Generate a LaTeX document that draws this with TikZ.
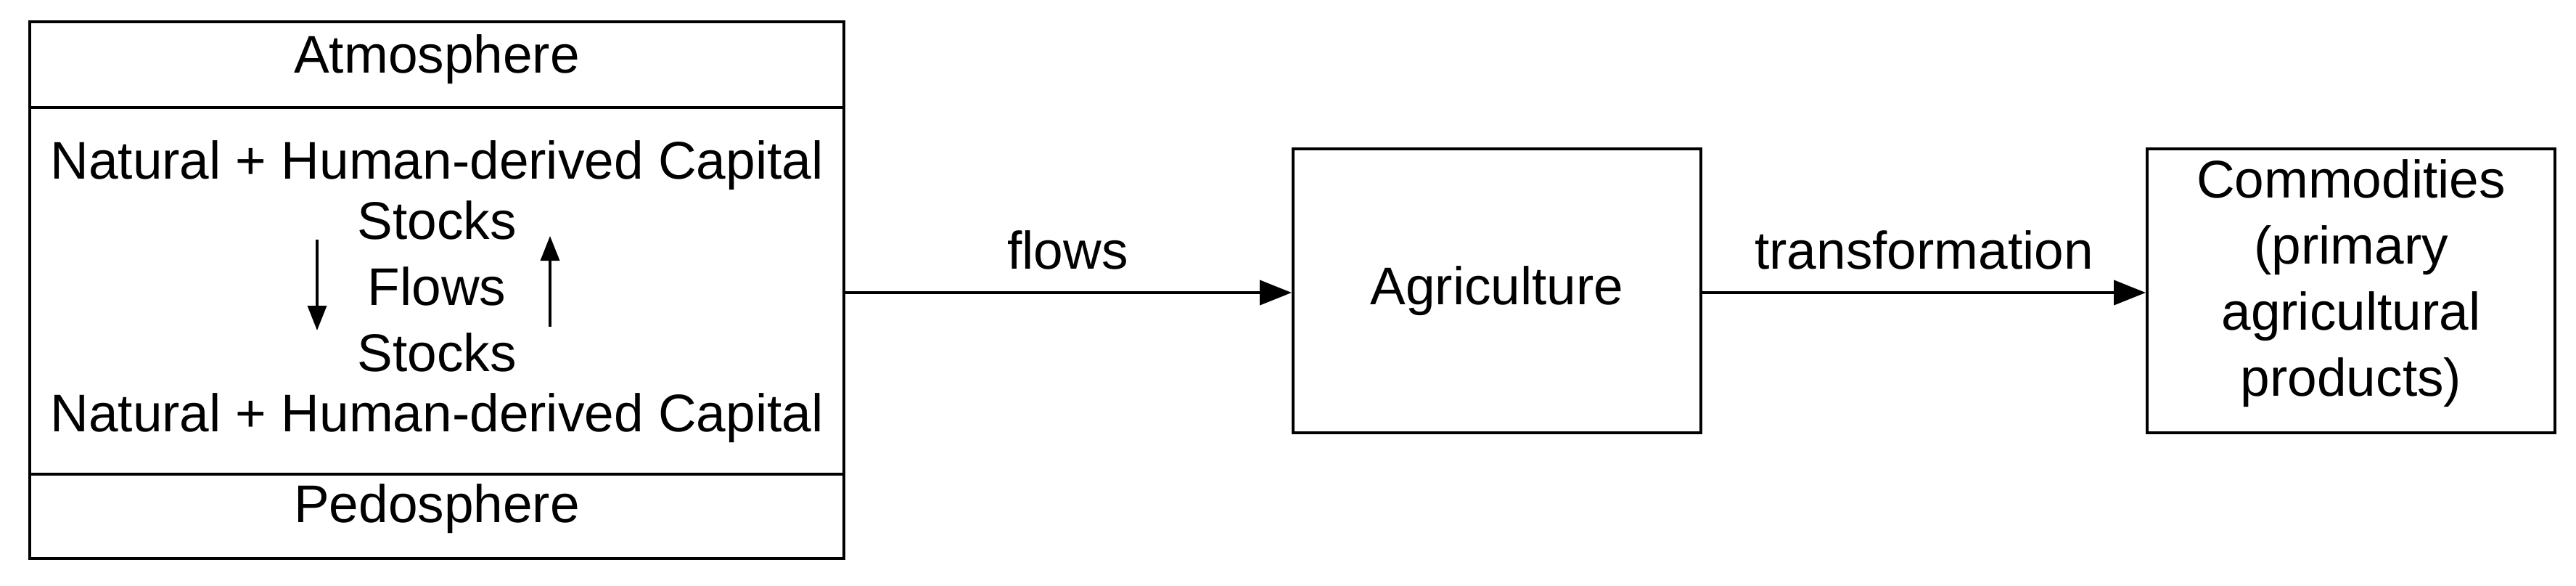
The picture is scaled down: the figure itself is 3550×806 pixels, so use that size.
\documentclass[tikz,border=0pt]{standalone}
\usepackage{fontspec}
\setmainfont{Liberation Sans}
\usetikzlibrary{arrows.meta}
\begin{document}
\begin{tikzpicture}[x=1pt,y=-1pt,
  box/.style={draw,line width=4pt},
  txt/.style={font=\fontsize{73}{91}\selectfont,inner sep=0pt,anchor=center},
  arr/.style={line width=4pt,-{Triangle[length=44pt,width=34pt]}}]
\useasboundingbox (0,0) rectangle (3550,806);
\draw[box] (41,30) rectangle (1163,769);
\draw[box] (41,148) -- (1163,148);
\draw[box] (41,653) -- (1163,653);
\node[txt] (atm) at (602,82) {Atmosphere};
\node[txt] (ped) at (602,701) {Pedosphere};
\node[txt] (c1) at (602,228) {Natural + Human-derived Capital};
\node[txt] (s1) at (602,303) {Stocks};
\node[txt] (fl) at (602,394) {Flows};
\node[txt] (s2) at (602,485) {Stocks};
\node[txt] (c2) at (602,576) {Natural + Human-derived Capital};
\coordinate (d1) at (437,330); \coordinate (d2) at (437,455);
\coordinate (u1) at (758,450); \coordinate (u2) at (758,325);
\draw[line width=3.5pt,-{Triangle[length=34pt,width=26pt]}] (d1) -- (d2);
\draw[line width=3.5pt,-{Triangle[length=34pt,width=26pt]}] (u1) -- (u2);
\node[box,minimum width=562pt,minimum height=391pt] (agr) at (2063,400.5) {};
\node[txt] at (agr) {Agriculture};
\node[box,minimum width=562pt,minimum height=391pt] (com) at (3240,400.5) {};
\node[txt,align=center] at (3240,390) {Commodities\\(primary\\agricultural\\products)};
\coordinate (lb) at (1163,403);
\draw[arr] (lb) -- (agr.west |- lb) node[midway,above=30pt,txt,anchor=south] {flows};
\draw[arr] (agr.east |- lb) -- (com.west |- lb) node[midway,above=30pt,txt,anchor=south] {transformation};
\end{tikzpicture}
\end{document}
